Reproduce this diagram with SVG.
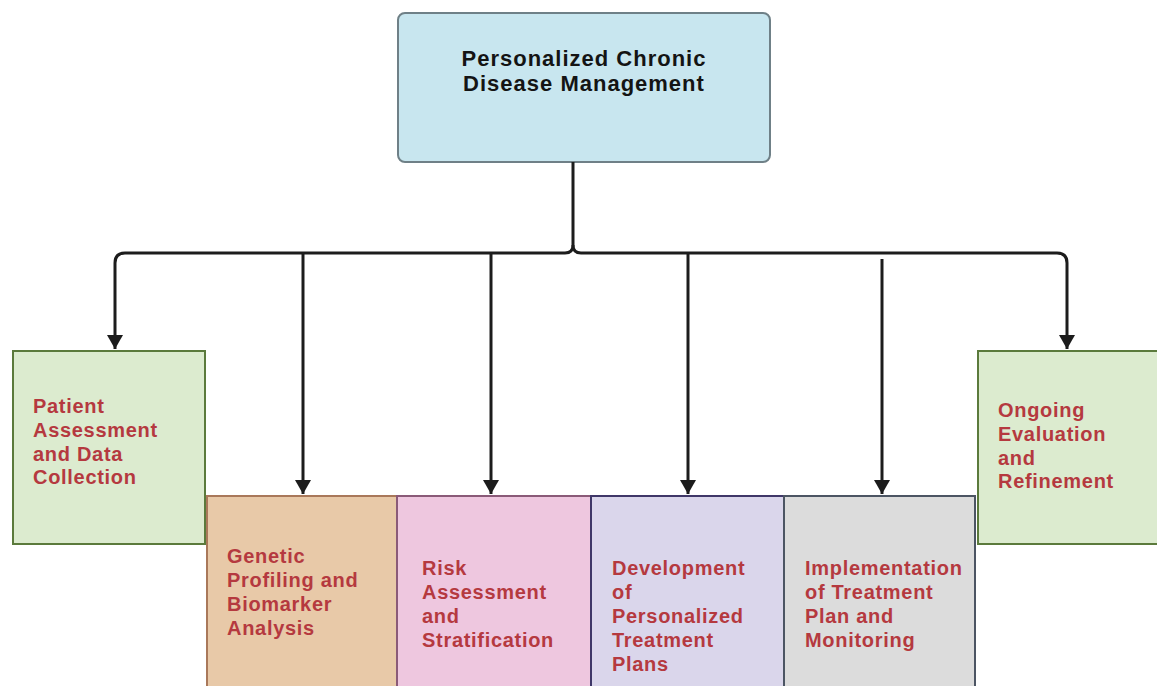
<svg xmlns="http://www.w3.org/2000/svg" width="1157" height="686" viewBox="0 0 1157 686">
  <style>
    .title { font-family: "Liberation Sans", Arial, sans-serif; font-weight: bold; font-size: 22px; letter-spacing: 1px; fill: #141414; }
    .label { font-family: "Liberation Sans", Arial, sans-serif; font-weight: bold; font-size: 20px; letter-spacing: 0.7px; fill: #b5393f; }
    .wire { fill: none; stroke: #1c1c1c; stroke-width: 3; }
    .box { stroke-width: 2; }
  </style>
  <defs>
    <marker id="arrow" markerUnits="userSpaceOnUse" markerWidth="16" markerHeight="16" refX="14" refY="8" orient="auto">
      <path d="M0,0 L14,8 L0,16 Z" fill="#1c1c1c"/>
    </marker>
  </defs>

  <rect width="1157" height="686" fill="#ffffff"/>

  <!-- root node -->
  <g id="root">
    <rect x="398" y="13" width="372" height="149" rx="7" fill="#c8e6ef" stroke="#6f8087" stroke-width="2"/>
    <text class="title" text-anchor="middle"><tspan x="584" y="66">Personalized Chronic</tspan><tspan x="584" y="91">Disease Management</tspan></text>
  </g>

  <!-- connectors -->
  <g id="connectors">
    <path class="wire" d="M573,162 V245 Q573,253 565,253 H125 Q115,253 115,263 V349" marker-end="url(#arrow)"/>
    <path class="wire" d="M573,245 Q573,253 581,253 H1057 Q1067,253 1067,263 V349" marker-end="url(#arrow)"/>
    <path class="wire" d="M303,253 V494" marker-end="url(#arrow)"/>
    <path class="wire" d="M491,253 V494" marker-end="url(#arrow)"/>
    <path class="wire" d="M688,253 V494" marker-end="url(#arrow)"/>
    <path class="wire" d="M882,259 V494" marker-end="url(#arrow)"/>
  </g>

  <!-- step nodes -->
  <g id="patient-assessment">
    <rect class="box" x="13" y="351" width="192" height="193" fill="#dcebcf" stroke="#5b7a3c"/>
    <text class="label"><tspan x="33" y="413">Patient</tspan><tspan x="33" y="437">Assessment</tspan><tspan x="33" y="461">and Data</tspan><tspan x="33" y="484">Collection</tspan></text>
  </g>

  <g id="genetic-profiling">
    <rect class="box" x="207" y="496" width="190" height="200" fill="#e8c9a8" stroke="#a9785a"/>
    <text class="label"><tspan x="227" y="563">Genetic</tspan><tspan x="227" y="587">Profiling and</tspan><tspan x="227" y="611">Biomarker</tspan><tspan x="227" y="635">Analysis</tspan></text>
  </g>

  <g id="risk-assessment">
    <rect class="box" x="397" y="496" width="194" height="200" fill="#eec7df" stroke="#8a5a78"/>
    <text class="label"><tspan x="422" y="575">Risk</tspan><tspan x="422" y="599">Assessment</tspan><tspan x="422" y="623">and</tspan><tspan x="422" y="647">Stratification</tspan></text>
  </g>

  <g id="treatment-plans">
    <rect class="box" x="591" y="496" width="193" height="200" fill="#dad6eb" stroke="#3f3768"/>
    <text class="label"><tspan x="612" y="575">Development</tspan><tspan x="612" y="599">of</tspan><tspan x="612" y="623">Personalized</tspan><tspan x="612" y="647">Treatment</tspan><tspan x="612" y="671">Plans</tspan></text>
  </g>

  <g id="implementation">
    <rect class="box" x="784" y="496" width="191" height="200" fill="#dcdcdc" stroke="#4c5563"/>
    <text class="label"><tspan x="805" y="575">Implementation</tspan><tspan x="805" y="599">of Treatment</tspan><tspan x="805" y="623">Plan and</tspan><tspan x="805" y="647">Monitoring</tspan></text>
  </g>

  <g id="ongoing-evaluation">
    <rect class="box" x="978" y="351" width="190" height="193" fill="#dcebcf" stroke="#5b7a3c"/>
    <text class="label"><tspan x="998" y="417">Ongoing</tspan><tspan x="998" y="441">Evaluation</tspan><tspan x="998" y="465">and</tspan><tspan x="998" y="488">Refinement</tspan></text>
  </g>
</svg>
